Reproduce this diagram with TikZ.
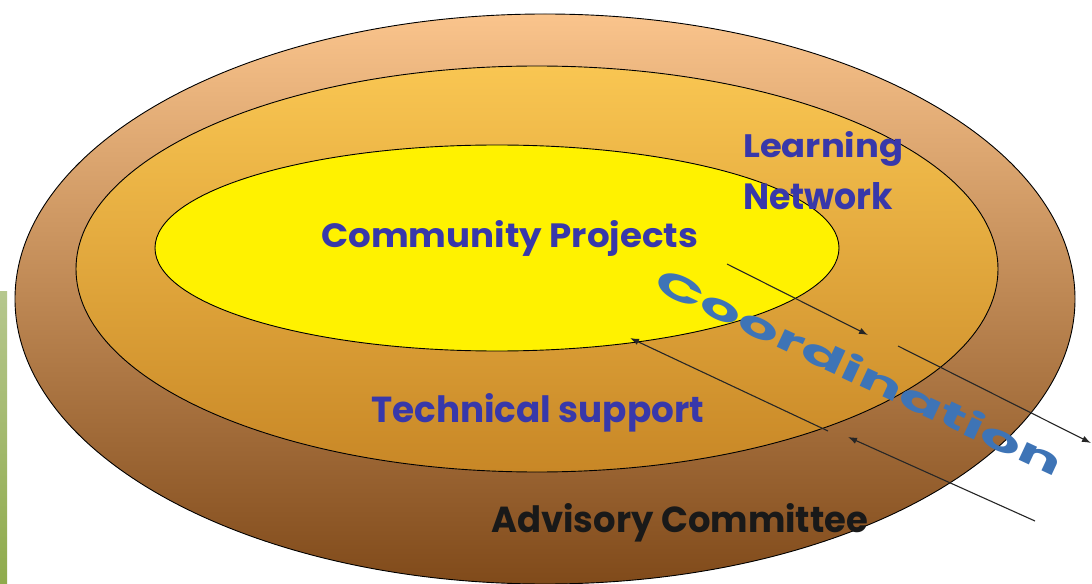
\documentclass[tikz,border=0pt]{standalone}
\usepackage{fontspec}
\setmainfont{Poppins}
\usetikzlibrary{arrows.meta}
\definecolor{txtblue}{RGB}{56,56,170}
\definecolor{coordblue}{RGB}{62,116,182}
\definecolor{peach}{RGB}{250,196,140}
\definecolor{brownbot}{RGB}{128,74,26}
\definecolor{goldtop}{RGB}{249,198,82}
\definecolor{goldbot}{RGB}{200,135,38}
\definecolor{greentop}{RGB}{182,199,142}
\definecolor{greenbot}{RGB}{143,171,76}
\begin{document}
\begin{tikzpicture}[x=1bp,y=-1bp,
  ring/.style={draw=black, line width=0.9bp},
  lbl/.style={inner sep=0pt, anchor=base west, text=txtblue, font=\bfseries\fontsize{38}{53}\selectfont},
  conn/.style={draw=black!85, line width=1.1bp, -{Latex[length=9bp,width=6.5bp]}}]
\useasboundingbox[fill=white] (0,0) rectangle (1092,584);
% green bar at left
\shade[top color=greentop, bottom color=greenbot] (0,291) rectangle (7,584);
% rings
\path[ring, top color=peach, bottom color=brownbot] (545,299) ellipse [x radius=530, y radius=285];
\path[ring, top color=goldtop, bottom color=goldbot] (537,269) ellipse [x radius=461, y radius=203];
\path[ring, fill=yellow] (497,248) ellipse [x radius=342, y radius=103];
% labels
\node[lbl] (cp) at (321,248) {\resizebox{377bp}{27bp}{Community Projects}};
\node[lbl] (ts) at (371,422) {\resizebox{333bp}{29bp}{Technical support}};
\node[lbl, text=black!90] (ac) at (491,532) {\resizebox{377bp}{29bp}{Advisory Committee}};
\node[lbl] (ln) at (743,158) {\resizebox{160bp}{26bp}{Learning}};
\node[lbl] (nw) at (743,210) {\resizebox{150bp}{27bp}{Network}};
% coordination
\node[rotate=-25, text=coordblue, inner sep=0pt] (coord) at (860,371) {\resizebox{444bp}{28bp}{\bfseries Coordination}};
% connectors
\coordinate (a1s) at (727,264); \coordinate (a1e) at (868,335);
\coordinate (a2s) at (898,346); \coordinate (a2e) at (1091,443);
\coordinate (a3s) at (828,431); \coordinate (a3e) at (630,338);
\coordinate (a4s) at (1035,521); \coordinate (a4e) at (848,437);
\draw[conn] (a1s) -- (a1e);
\draw[conn] (a2s) -- (a2e);
\draw[conn] (a3s) -- (a3e);
\draw[conn] (a4s) -- (a4e);
\end{tikzpicture}
\end{document}
